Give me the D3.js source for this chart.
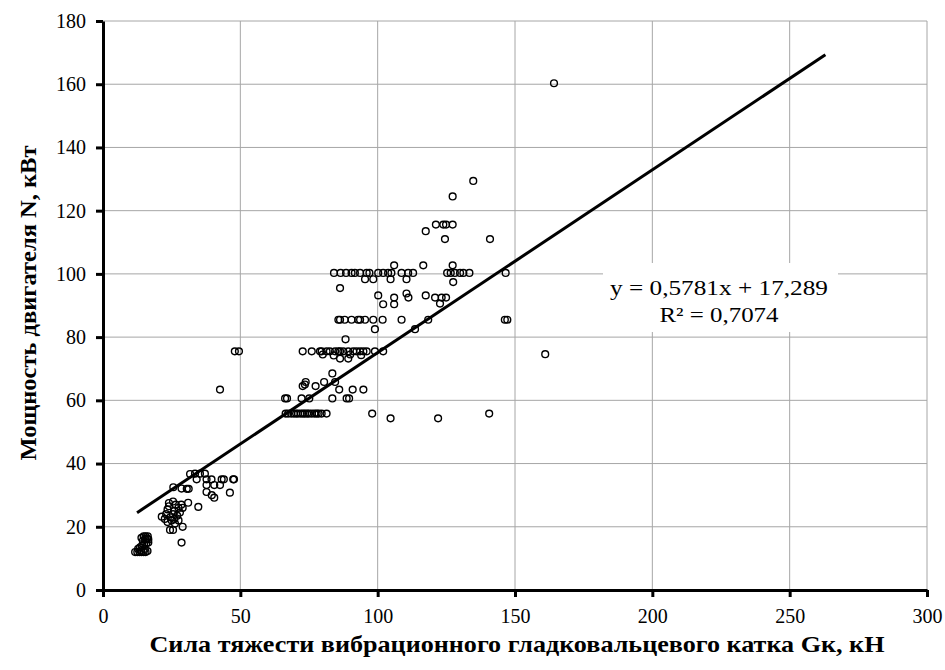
<!DOCTYPE html>
<html>
<head>
<meta charset="utf-8">
<script src="https://cdn.jsdelivr.net/npm/d3@7"></script>
</head>
<body style="margin:0;background:#fff">
<div id="chart"></div>
<script>
// данные: сила тяжести катка Gк (кН) и мощность двигателя N (кВт)
var gk = [
  11.7, 12.5, 13.3, 14, 14.8, 15.5, 16.2, 12.8, 13.5, 14.2, 15, 15.8, 16.5, 14.5, 15.3, 16, 14.8, 15.5, 16.3, 13.8, 15.2, 16.5, 14,
  28.6, 24.4, 25.5, 26.2, 29, 21.4, 22.5, 23, 23.5, 24, 24.5, 25, 25.5, 26, 26.5, 27, 27.5, 28, 28.5, 29, 24, 25.5, 23.5, 26, 27.5,
  31, 34.7, 25.6, 28.6, 30.5, 31.2, 31.7, 33.5, 35.3, 37.1, 34.1, 37.7, 39.5, 43.2, 44, 47.4, 47.7, 37.7, 40.5, 42.6, 37.7, 39.6, 40.5, 46.2,
  42.6, 48, 49.5,
  66.5, 67.4, 68.5, 69.5, 70.3, 71, 72, 72.8, 73.5, 74.3, 75, 76, 77, 77.8, 78.5, 79.6, 81.4, 98, 104.7, 122, 140.6,
  66.3, 67, 72.3, 75.1, 83.5, 88.7, 89.6,
  73.8, 72.7, 77.4, 80.5, 84.5, 86, 90.9, 94.8, 83.5, 73.5,
  72.7, 76, 79, 79.6, 81.4, 82.6, 84.5, 85.7, 86.3, 87.5, 89.3, 91.1, 92.3, 93.6, 94.8, 96, 99, 102, 86.3, 89.3, 80, 84, 90, 94,
  88.3, 99, 113.6,
  85.7, 86.3, 88, 90.5, 92.9, 93.6, 95.4, 98.4, 101.8, 108.7, 118.4, 146.3, 147.2,
  100.2, 102, 106, 106, 110.5, 111.2, 117.5, 120.9, 123.3, 124.9, 122.7, 86.3,
  95.4, 98.4, 104.7, 110.5, 127.5,
  106, 116.6, 127.3,
  84.1, 86.5, 88.5, 90.5, 91.7, 93.6, 96, 97, 100.2, 102, 103.8, 105, 108.7, 111.1, 112.9, 125.3, 126.6, 128.1, 130, 131.2, 133.4, 146.6,
  117.5, 121.2, 123.9, 124.9, 127.3, 124.5, 140.9, 127.3, 134.8, 164.2, 161
];
var power = [
  12, 12, 12, 12, 12, 12, 12.3, 13, 13.5, 14, 14.5, 14.8, 15, 15.5, 16, 16.3, 17, 17, 17, 12.5, 13, 16, 16.5,
  15, 19, 19, 21, 20, 23.2, 22.5, 24, 25.5, 26.5, 23, 22, 24, 25, 27, 23.5, 26, 24.5, 27, 26, 27.5, 28, 21.5, 22.5, 22,
  27.6, 26.3, 32.5, 32.1, 32, 32, 36.7, 36.8, 36.8, 36.8, 35, 35, 35, 35, 35, 35, 35, 33.2, 33.2, 33.2, 31, 30, 29.2, 30.8,
  63.4, 75.5, 75.5,
  55.8, 55.8, 55.8, 55.8, 55.8, 55.8, 55.8, 55.8, 55.8, 55.8, 55.8, 55.8, 55.8, 55.8, 55.8, 55.8, 55.8, 55.8, 54.3, 54.3, 55.8,
  60.6, 60.6, 60.6, 60.6, 60.6, 60.6, 60.6,
  65.8, 64.5, 64.5, 65.8, 65.8, 63.4, 63.4, 63.4, 68.5, 65,
  75.5, 75.5, 75.5, 75.5, 75.5, 75.5, 75.5, 75.5, 75.5, 75.5, 75.5, 75.5, 75.5, 75.5, 75.5, 75.5, 75.5, 75.5, 73.2, 73.2, 74.5, 74.2, 74.5, 74.3,
  79.3, 82.5, 82.5,
  85.5, 85.5, 85.5, 85.5, 85.5, 85.5, 85.5, 85.5, 85.5, 85.5, 85.5, 85.5, 85.5,
  93.2, 90.4, 92.5, 90.4, 93.8, 92.5, 93.2, 92.5, 92.5, 92.5, 90.6, 95.5,
  98.3, 98.3, 98.3, 98.3, 97.4,
  102.7, 102.7, 102.7,
  100.3, 100.3, 100.3, 100.3, 100.3, 100.3, 100.3, 100.3, 100.3, 100.3, 100.3, 100.3, 100.3, 100.3, 100.3, 100.3, 100.3, 100.3, 100.3, 100.3, 100.3, 100.3,
  113.5, 115.6, 115.6, 115.6, 115.6, 111, 111, 124.5, 129.4, 160.3, 74.6
];
var xTicks = [0, 50, 100, 150, 200, 250, 300];
var yTicks = [0, 20, 40, 60, 80, 100, 120, 140, 160, 180];
var trendSlope = 0.5781, trendIntercept = 17.289;
var trendRange = [12.4, 263];
var eqLines = ["y = 0,5781x + 17,289", "R\u00b2 = 0,7074"];

(function(){
  var W = 945, H = 670;
  var mLeft = 103, mRight = 927, mTop = 21, mBottom = 590;
  var FONT = "'Liberation Serif', 'Times New Roman', Tinos, 'DejaVu Serif', serif";

  var svg = d3.select("#chart").append("svg").attr("width", W).attr("height", H)
    .attr("font-family", FONT).style("font-family", FONT);

  var x = d3.scaleLinear().domain([0, 300]).range([mLeft, mRight]);
  var y = d3.scaleLinear().domain([0, 180]).range([mBottom, mTop]);

  // сетка
  svg.append("g").selectAll("line").data(yTicks.slice(1)).enter().append("line")
    .attr("x1", mLeft).attr("x2", mRight)
    .attr("y1", function(d){ return y(d); }).attr("y2", function(d){ return y(d); })
    .attr("stroke", "#a6a6a6").attr("stroke-width", 1);
  svg.append("g").selectAll("line").data(xTicks.slice(1)).enter().append("line")
    .attr("y1", mTop).attr("y2", mBottom)
    .attr("x1", function(d){ return x(d); }).attr("x2", function(d){ return x(d); })
    .attr("stroke", "#a6a6a6").attr("stroke-width", 1);

  // точки
  svg.append("g").selectAll("circle").data(d3.range(gk.length)).enter().append("circle")
    .attr("cx", function(i){ return x(gk[i]); })
    .attr("cy", function(i){ return y(power[i]); })
    .attr("r", 3.4)
    .attr("fill", "none").attr("stroke", "#000").attr("stroke-width", 1.4);

  // линия тренда
  svg.append("line")
    .attr("x1", x(trendRange[0])).attr("y1", y(trendSlope * trendRange[0] + trendIntercept))
    .attr("x2", x(trendRange[1])).attr("y2", y(trendSlope * trendRange[1] + trendIntercept))
    .attr("stroke", "#000").attr("stroke-width", 3);

  // подпись уравнения
  var eqWidth = [218, 119];
  svg.append("rect").attr("x", 603).attr("y", 263).attr("width", 235).attr("height", 69).attr("fill", "#fff");
  svg.append("g").selectAll("text").data(eqLines).enter().append("text")
    .attr("x", 719).attr("y", function(d, i){ return 295 + i * 27; })
    .attr("text-anchor", "middle").style("font-family", FONT).attr("font-size", 21)
    .attr("textLength", function(d, i){ return eqWidth[i]; }).attr("lengthAdjust", "spacingAndGlyphs")
    .text(function(d){ return d; });

  // оси
  var xAxis = svg.append("g").attr("transform", "translate(0," + mBottom + ")")
    .call(d3.axisBottom(x).tickValues(xTicks).tickSize(7).tickSizeOuter(0).tickPadding(12));
  var yAxis = svg.append("g").attr("transform", "translate(" + mLeft + ",0)")
    .call(d3.axisLeft(y).tickValues(yTicks).tickSize(7).tickSizeOuter(0).tickPadding(10));
  [xAxis, yAxis].forEach(function(a){
    a.attr("font-family", FONT).style("font-family", FONT).attr("font-size", 20);
    a.select(".domain").attr("stroke", "#000").attr("stroke-width", 3);
    a.selectAll(".tick line").attr("stroke", "#000").attr("stroke-width", 3);
    a.selectAll(".tick text").attr("fill", "#000")
      .attr("font-family", FONT).style("font-family", FONT).attr("font-size", 20);
  });

  // подписи осей
  svg.append("text").attr("x", 517).attr("y", 652)
    .attr("text-anchor", "middle").style("font-family", FONT).attr("font-size", 23).attr("font-weight", "bold")
    .attr("textLength", 735).attr("lengthAdjust", "spacingAndGlyphs")
    .text("Сила тяжести вибрационного гладковальцевого катка Gк, кН");
  svg.append("text").attr("transform", "translate(36,303) rotate(-90)")
    .attr("text-anchor", "middle").style("font-family", FONT).attr("font-size", 23).attr("font-weight", "bold")
    .attr("textLength", 315).attr("lengthAdjust", "spacingAndGlyphs")
    .text("Мощность двигателя N, кВт");
})();
</script>
</body>
</html>
